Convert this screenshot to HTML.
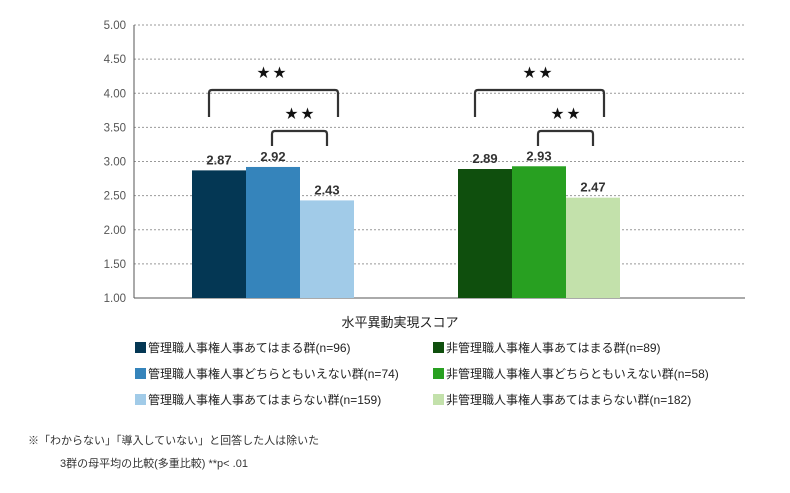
<!DOCTYPE html>
<html><head><meta charset="utf-8"><style>
body{margin:0;background:#fff;font-family:"Liberation Sans","Noto Sans CJK JP",sans-serif;}
svg text{font-family:"Liberation Sans","Noto Sans CJK JP",sans-serif;}
</style></head><body>
<svg id="c" width="790" height="488" viewBox="0 0 790 488"></svg>
<script>
const categories=["管理職","非管理職"];
const seriesA=[2.87,2.89];
const seriesB=[2.92,2.93];
const seriesC=[2.43,2.47];
const yTicks=[1.00,1.50,2.00,2.50,3.00,3.50,4.00,4.50,5.00];
const colors=[["#043754","#3584bb","#a1cbe8"],["#0f4f0d","#28a021","#c3e1ab"]];
const legendLabels=[["管理職人事権人事あてはまる群(n=96)","管理職人事権人事どちらともいえない群(n=74)","管理職人事権人事あてはまらない群(n=159)"],["非管理職人事権人事あてはまる群(n=89)","非管理職人事権人事どちらともいえない群(n=58)","非管理職人事権人事あてはまらない群(n=182)"]];
const svg=document.getElementById('c');
const NS="http://www.w3.org/2000/svg";
function mk(t,a,txt){const e=document.createElementNS(NS,t);for(const k in a)e.setAttribute(k,a[k]);if(txt!=null)e.textContent=txt;svg.appendChild(e);return e;}
const y=v=>298-(v-1)*68.25;
const band=266,x0=140,bw=54;
const xc=i=>x0+band*i+band/2;
yTicks.forEach(t=>{
 if(t>1){const l=mk('line',{x1:134,x2:745,y1:y(t),y2:y(t),stroke:'#999','stroke-dasharray':'2,2','stroke-width':1});
 }
 const tx=mk('text',{x:126,y:y(t)+4,'text-anchor':'end','font-size':11.5,fill:'#555'},t.toFixed(2));
 
});
const ax=mk('line',{x1:134,x2:134,y1:25,y2:298,stroke:'#555','stroke-width':1});

const xa=mk('line',{x1:134,x2:745,y1:298,y2:298,stroke:'#555','stroke-width':1});

const series=[seriesA,seriesB,seriesC];
categories.forEach((c,i)=>{
 series.forEach((s,j)=>{
  const bx=xc(i)-bw*1.5+bw*j;
  const r=mk('rect',{x:bx,y:y(s[i]),width:bw,height:298-y(s[i]),fill:colors[i][j]});
  
  const t=mk('text',{x:bx+bw/2,y:y(s[i])-6,'text-anchor':'middle','font-size':13,'font-weight':'bold',fill:'#333'},s[i].toFixed(2));
  
 });
 const L=xc(i)-64,R=xc(i)+65;
 const b1=mk('path',{d:`M${L},117 V93 Q${L},90 ${L+3},90 H${R-3} Q${R},90 ${R},93 V117`,fill:'none',stroke:'#333','stroke-width':2.2});
 
 const s1=mk('text',{x:xc(i),y:77,'text-anchor':'middle','font-size':13,fill:'#111','letter-spacing':'3'},'★★');
 
 const l2=xc(i)-1,r2=xc(i)+54;
 const b2=mk('path',{d:`M${l2},146 V134 Q${l2},131 ${l2+3},131 H${r2-3} Q${r2},131 ${r2},134 V146`,fill:'none',stroke:'#333','stroke-width':2.2});
 
 const s2=mk('text',{x:xc(i)+28,y:118,'text-anchor':'middle','font-size':13,fill:'#111','letter-spacing':'3'},'★★');
 
});
const at=mk('text',{x:400,y:327,'text-anchor':'middle','font-size':13,fill:'#222'},'水平異動実現スコア');

legendLabels.forEach((col,i)=>{col.forEach((lab,j)=>{
 const lx=i?433:135,ly=342+j*26;
 const sq=mk('rect',{x:lx,y:ly,width:11,height:11,fill:colors[i][j]});
 
 const t=mk('text',{x:lx+13,y:ly+10,'font-size':12,fill:'#222'},lab);
 
});});
const f1=mk('text',{x:28,y:444,'font-size':11,fill:'#333'},'※「わからない」「導入していない」と回答した人は除いた');

const f2=mk('text',{x:60,y:467,'font-size':11,fill:'#333'},'3群の母平均の比較(多重比較)  **p< .01');

</script>
</body></html>
